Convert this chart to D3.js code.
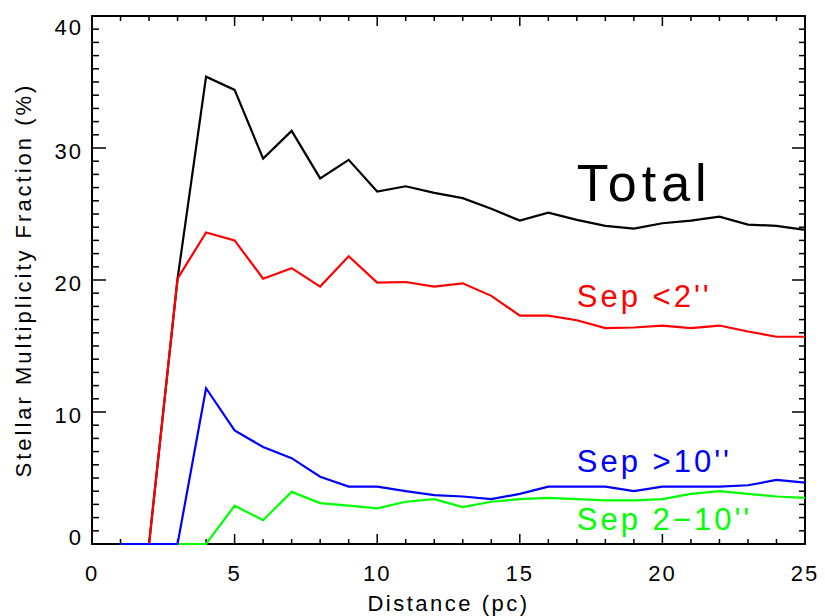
<!DOCTYPE html>
<html>
<head>
<meta charset="utf-8">
<script src="https://cdn.jsdelivr.net/npm/d3@7"></script>
<style>
  body { margin: 0; background: #fff; }
  text { font-family: "Liberation Sans", Arial, sans-serif; }
</style>
</head>
<body>
<div id="chart"></div>
<script>
// Stellar multiplicity fraction vs distance
const distance = [1,2,3,4,5,6,7,8,9,10,11,12,13,14,15,16,17,18,19,20,21,22,23,24,25];
const total  = [0,0,20.1,35.4,34.4,29.2,31.3,27.7,29.1,26.7,27.1,26.6,26.2,25.4,24.5,25.1,24.55,24.1,23.9,24.3,24.5,24.8,24.2,24.1,23.8];
const sepLt2 = [0,0,20.1,23.6,23.0,20.1,20.9,19.5,21.8,19.8,19.85,19.5,19.75,18.8,17.3,17.3,16.95,16.35,16.4,16.55,16.35,16.55,16.1,15.7,15.7];
const sep2to10 = [0,0,0,0,2.9,1.8,3.95,3.1,2.9,2.7,3.2,3.4,2.8,3.2,3.4,3.5,3.4,3.3,3.3,3.4,3.8,4.0,3.8,3.6,3.5];
const sepGt10 = [0,0,0,11.8,8.6,7.35,6.5,5.1,4.35,4.35,4.0,3.7,3.6,3.4,3.8,4.35,4.35,4.35,4.0,4.35,4.35,4.35,4.45,4.85,4.65];

const seriesNames = ['Total', "Sep <2''", "Sep 2\u221210''", "Sep >10''"];
const seriesColors = ['#000000', '#ff0000', '#00ff00', '#0000ff'];
const seriesValues = [total, sepLt2, sep2to10, sepGt10];
// label anchor in data units (x, y baseline)
const labelPos = [[17.0, 26.0], [17.0, 17.95], [17.0, 1.06], [17.0, 5.45]];
const labelSize = [52, 31, 31, 31];

const xTicks = [0, 5, 10, 15, 20, 25];
const yTicks = [0, 10, 20, 30, 40];

const width = 825, height = 616;
const margin = {top: 16, right: 20, bottom: 72, left: 92};

const svg = d3.select('#chart').append('svg')
  .attr('width', width)
  .attr('height', height);

const x = d3.scaleLinear().domain([0, 25]).range([margin.left, width - margin.right]);
const y = d3.scaleLinear().domain([0, 40]).range([height - margin.bottom, margin.top]);

const x0 = x(0), x1 = x(25), y0 = y(0), y1 = y(40);

// axis box
svg.append('rect')
  .attr('x', x0).attr('y', y1)
  .attr('width', x1 - x0).attr('height', y0 - y1)
  .attr('fill', 'none').attr('stroke', '#000').attr('stroke-width', 2);

const ticks = svg.append('g').attr('stroke', '#000').attr('stroke-width', 1.5);
// x ticks, minor every 1 unit
d3.range(1, 25).forEach(v => {
  const len = v % 5 === 0 ? 10 : 5;
  ticks.append('line').attr('x1', x(v)).attr('x2', x(v)).attr('y1', y0).attr('y2', y0 - len);
  ticks.append('line').attr('x1', x(v)).attr('x2', x(v)).attr('y1', y1).attr('y2', y1 + len);
});
// y ticks, minor every 1 unit
d3.range(1, 40).forEach(v => {
  const major = v % 10 === 0;
  ticks.append('line').attr('x1', x0).attr('x2', x0 + (major ? 14 : 7)).attr('y1', y(v)).attr('y2', y(v));
  ticks.append('line').attr('x1', x1).attr('x2', x1 - (major ? 13 : 6)).attr('y1', y(v)).attr('y2', y(v));
});

// data lines, drawn over the axes
const line = d3.line().x((d, i) => x(distance[i])).y(d => y(d));
seriesValues.forEach((vals, k) => {
  svg.append('path')
    .attr('d', line(vals))
    .attr('fill', 'none')
    .attr('stroke', seriesColors[k])
    .attr('stroke-width', 2.2);
});

// tick labels
svg.append('g').selectAll('text').data(xTicks).join('text')
  .attr('x', d => x(d))
  .attr('y', y0 + 37)
  .attr('text-anchor', 'middle')
  .attr('font-size', 22)
  .attr('letter-spacing', 2)
  .text(d => d);

svg.append('g').selectAll('text').data(yTicks).join('text')
  .attr('x', x0 - 9)
  .attr('y', d => y(d) + (d === 40 ? 19 : d === 0 ? 1 : 11))
  .attr('text-anchor', 'end')
  .attr('font-size', 22)
  .attr('letter-spacing', 2)
  .text(d => d);

// axis titles
svg.append('text')
  .attr('x', (x0 + x1) / 2)
  .attr('y', 611)
  .attr('text-anchor', 'middle')
  .attr('font-size', 22)
  .attr('letter-spacing', 2.5)
  .text('Distance (pc)');

svg.append('text')
  .attr('transform', `translate(31,${(y0 + y1) / 2}) rotate(-90)`)
  .attr('text-anchor', 'middle')
  .attr('font-size', 22)
  .attr('letter-spacing', 3)
  .text('Stellar Multiplicity Fraction (%)');

// series labels
seriesNames.forEach((name, k) => {
  svg.append('text')
    .attr('x', x(labelPos[k][0]))
    .attr('y', y(labelPos[k][1]))
    .attr('font-size', labelSize[k])
    .attr('letter-spacing', k === 0 ? 5 : 3)
    .attr('fill', seriesColors[k])
    .text(name);
});
</script>
</body>
</html>
